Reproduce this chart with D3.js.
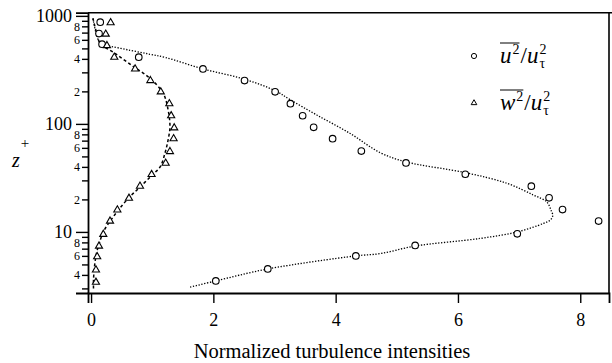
<!DOCTYPE html>
<html lang="en">
<head>
<meta charset="UTF-8">
<title>Turbulence intensities</title>
<script src="https://d3js.org/d3.v7.min.js"></script>
<style>
body { margin: 0; background: #fff; }
svg { display: block; font-family: "Liberation Serif", "DejaVu Serif", serif; }
</style>
</head>
<body>
<svg width="612" height="363"></svg>
<script>
// measured points: u'^2 (circles) and w'^2 (triangles), z+ on log scale
var uZ = [874, 685, 547, 415, 323, 252, 198, 154, 119, 93, 73, 56, 43.5, 34.2, 26.5, 20.7, 16.1, 12.6, 9.6, 7.5, 6.0, 4.54, 3.52];
var uX = [0.15, 0.13, 0.18, 0.78, 1.83, 2.51, 3.01, 3.26, 3.46, 3.64, 3.95, 4.42, 5.15, 6.12, 7.2, 7.49, 7.71, 8.30, 6.97, 5.30, 4.33, 2.89, 2.04];

var wZ = [866, 678, 531, 415, 323, 252, 198, 154, 119, 92, 73, 55.5, 43.3, 34, 26.5, 20.5, 16, 12.6, 9.5, 7.4, 5.9, 4.45, 3.42];
var wX = [0.32, 0.24, 0.26, 0.38, 0.72, 0.97, 1.14, 1.28, 1.31, 1.36, 1.35, 1.29, 1.22, 0.99, 0.80, 0.62, 0.43, 0.31, 0.20, 0.13, 0.10, 0.08, 0.08];

// reference profiles (dotted u, dashed w)
var uLineZ = [3.08, 3.52, 4.54, 6.0, 6.3, 7.4, 8.7, 10.0, 12.0, 12.9, 14.1, 16, 19.0, 22.0, 28.2, 35.4, 44.5, 54.1, 82, 121, 167, 203, 259, 323, 413, 441, 480, 534, 562, 700, 950];
var uLineX = [1.62, 2.04, 2.89, 4.33, 4.73, 5.30, 6.36, 6.97, 7.40, 7.51, 7.55, 7.52, 7.45, 7.23, 6.80, 6.12, 5.15, 4.73, 4.23, 3.69, 3.26, 3.01, 2.51, 1.83, 1.21, 0.965, 0.64, 0.26, 0.15, 0.08, 0.03];

var wLineZ = [3.0, 3.6, 5, 6.4, 8, 10, 13, 16, 20.5, 26, 33.7, 40, 54, 71, 94, 135, 192, 265, 340, 450, 558, 700, 950];
var wLineX = [0.04, 0.04, 0.06, 0.09, 0.14, 0.2, 0.33, 0.45, 0.61, 0.80, 1.0, 1.13, 1.21, 1.26, 1.29, 1.26, 1.18, 0.96, 0.69, 0.39, 0.15, 0.09, 0.03];

var xTicks = [0, 2, 4, 6, 8];
var yMajor = [10, 100, 1000];
var yMinor = [3, 4, 5, 6, 7, 8, 9, 20, 30, 40, 50, 60, 70, 80, 90, 200, 300, 400, 500, 600, 700, 800, 900];
var yMinorLabeled = [4, 6, 8, 20, 40, 60, 80, 200, 400, 600, 800];

var svg = d3.select('svg');
var pLeft = 88, pRight = 609, pTop = 12.7, pBottom = 293;

var x = d3.scaleLinear().domain([-0.05, 8.47]).range([pLeft, pRight]);
var y = d3.scaleLog().domain([2.72, 1070]).range([pBottom, pTop]);

// frame
svg.append('line').attr('x1', pLeft).attr('x2', pRight + 3).attr('y1', pTop).attr('y2', pTop)
    .attr('stroke', '#000').attr('stroke-width', 1.6);
svg.append('line').attr('x1', pRight).attr('x2', pRight).attr('y1', pTop).attr('y2', pBottom)
    .attr('stroke', '#000').attr('stroke-width', 1.6);

// x axis
var gx = svg.append('g')
    .attr('transform', 'translate(0,' + pBottom + ')')
    .call(d3.axisBottom(x).tickValues(xTicks).tickSize(10).tickPadding(10).tickFormat(d3.format('d')));
gx.select('.domain').attr('stroke-width', 1.8);
gx.selectAll('.tick line').attr('stroke-width', 1.4);
gx.selectAll('text').attr('font-size', 18).attr('font-family', 'Liberation Serif');

// y axis, major
var gy = svg.append('g')
    .attr('transform', 'translate(' + pLeft + ',0)')
    .call(d3.axisLeft(y).tickValues(yMajor).tickSize(12).tickPadding(4).tickFormat(d3.format('d')));
gy.select('.domain').attr('stroke-width', 1.8);
gy.selectAll('.tick line').attr('stroke-width', 1.4);
gy.selectAll('text').attr('font-size', 18).attr('font-family', 'Liberation Serif');

// y axis, minor
var gy2 = svg.append('g')
    .attr('transform', 'translate(' + pLeft + ',0)')
    .call(d3.axisLeft(y).tickValues(yMinor).tickSize(6).tickPadding(2)
        .tickFormat(function(d) {
            return yMinorLabeled.indexOf(d) >= 0 ? String(d).charAt(0) : '';
        }));
gy2.select('.domain').remove();
gy2.selectAll('.tick line').attr('stroke-width', 1.4);
gy2.selectAll('text').attr('font-size', 12).attr('font-family', 'Liberation Serif');

// axis titles
svg.append('text').attr('x', 332).attr('y', 358)
    .attr('text-anchor', 'middle').attr('font-size', 20.5).text('Normalized turbulence intensities');
var zl = svg.append('text').attr('x', 12).attr('y', 167).attr('font-size', 20);
zl.append('tspan').attr('font-style', 'italic').text('z');
zl.append('tspan').attr('font-size', 15).attr('dx', 1).attr('dy', -19).text('+');

// curves
var line = d3.line()
    .x(function(d) { return x(d[0]); })
    .y(function(d) { return y(d[1]); })
    .curve(d3.curveCatmullRom.alpha(0.5));

svg.append('path')
    .datum(d3.zip(uLineX, uLineZ))
    .attr('d', line)
    .attr('fill', 'none').attr('stroke', '#000').attr('stroke-width', 1.3)
    .attr('stroke-dasharray', '1.3,1.6');

svg.append('path')
    .datum(d3.zip(wLineX, wLineZ))
    .attr('d', line)
    .attr('fill', 'none').attr('stroke', '#000').attr('stroke-width', 1.5)
    .attr('stroke-dasharray', '3,2.5');

// markers
svg.append('g').selectAll('circle')
    .data(d3.zip(uX, uZ))
    .enter()
    .append('circle')
    .attr('cx', function(d) { return x(d[0]); })
    .attr('cy', function(d) { return y(d[1]); })
    .attr('r', 3.3)
    .attr('fill', '#fff').attr('stroke', '#000').attr('stroke-width', 1.1);

var tri = d3.symbol().type(d3.symbolTriangle).size(22);
svg.append('g').selectAll('path')
    .data(d3.zip(wX, wZ))
    .enter()
    .append('path')
    .attr('d', tri)
    .attr('transform', function(d) { return 'translate(' + x(d[0]) + ',' + y(d[1]) + ')'; })
    .attr('fill', '#fff').attr('stroke', '#000').attr('stroke-width', 1.1);

// legend
function legendLabel(letter, ty) {
    var g = svg.append('g');
    var t1 = g.append('text').attr('x', 500).attr('y', ty).attr('font-size', 23)
        .attr('font-style', 'italic').text(letter);
    var w1 = t1.node().getComputedTextLength();
    var s1 = g.append('text').attr('x', 500 + w1 + 1).attr('y', ty - 9).attr('font-size', 14).text('2');
    var w2 = s1.node().getComputedTextLength();
    g.append('line').attr('x1', 500).attr('x2', 500 + w1 + w2 + 1)
        .attr('y1', ty - 20).attr('y2', ty - 20).attr('stroke', '#000').attr('stroke-width', 1);
    var xs = 500 + w1 + w2 + 2;
    var sl = g.append('text').attr('x', xs).attr('y', ty).attr('font-size', 23).text('/');
    xs += sl.node().getComputedTextLength();
    var t2 = g.append('text').attr('x', xs).attr('y', ty).attr('font-size', 23)
        .attr('font-style', 'italic').text('u');
    xs += t2.node().getComputedTextLength() + 1;
    g.append('text').attr('x', xs).attr('y', ty - 9).attr('font-size', 14).text('2');
    g.append('text').attr('x', xs).attr('y', ty + 5).attr('font-size', 14).text('τ');
}

svg.append('circle').attr('cx', 474).attr('cy', 56).attr('r', 2.6)
    .attr('fill', 'none').attr('stroke', '#000').attr('stroke-width', 1);
svg.append('path').attr('d', d3.symbol().type(d3.symbolTriangle).size(14))
    .attr('transform', 'translate(474,103)')
    .attr('fill', 'none').attr('stroke', '#000').attr('stroke-width', 1);
legendLabel('u', 63);
legendLabel('w', 110);
</script>
</body>
</html>
